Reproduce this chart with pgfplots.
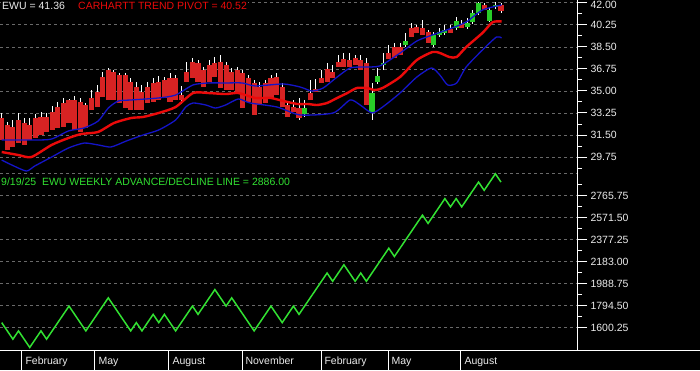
\documentclass[border=0pt]{standalone}
\usepackage{pgfplots}
\pgfplotsset{compat=1.18}
\usepackage{pgfplotstable}
\usepackage{fontspec}
\setmainfont{Liberation Sans}
\definecolor{candred}{RGB}{215,35,35}
\definecolor{candgreen}{RGB}{40,205,40}
\definecolor{pivotred}{RGB}{235,10,10}
\definecolor{bandblue}{RGB}{20,20,200}
\definecolor{adgreen}{RGB}{50,225,50}
\definecolor{gridgray}{RGB}{105,105,105}
\definecolor{txt}{RGB}{235,235,235}
\newcommand\lab{\fontsize{10.5}{12}\selectfont}

\pgfplotstableread{
x hi lo top bot
0 33.25 31.10 32.85 31.10
1 32.53 30.31 32.29 30.31
2 32.69 30.55 32.14 30.55
3 33.25 30.86 32.69 30.86
4 32.85 30.71 32.45 30.71
5 32.85 31.10 32.29 31.10
6 33.17 31.26 32.85 31.26
7 33.33 31.50 32.93 31.50
8 33.25 31.74 32.93 31.74
9 33.80 31.90 33.33 31.90
10 34.12 32.06 33.72 32.06
11 34.44 32.14 34.04 32.14
12 34.36 32.45 34.28 32.45
13 34.60 31.90 34.28 31.90
14 34.44 31.74 34.12 31.74
15 34.04 32.06 33.88 32.06
16 35.07 33.48 34.44 33.48
17 35.47 33.72 34.91 33.72
18 36.50 34.52 36.10 34.52
19 36.82 34.28 36.66 34.28
20 36.66 34.28 36.50 34.28
21 36.42 34.04 36.26 34.04
22 36.42 33.64 36.26 33.64
23 36.02 33.48 35.71 33.48
24 35.71 33.48 35.31 33.48
25 35.47 33.48 34.91 33.48
26 35.71 34.04 35.31 34.04
27 36.02 34.12 35.63 34.12
28 36.18 34.28 35.71 34.28
29 36.10 34.44 35.86 34.44
30 36.42 34.12 36.02 34.12
31 36.26 34.28 36.02 34.28
32 35.39 33.96 34.67 34.28
33 37.29 35.71 36.50 35.71
34 37.61 36.02 37.29 36.02
35 37.45 35.71 37.21 35.71
36 36.90 35.31 36.66 35.31
37 37.45 35.71 37.06 35.71
38 37.69 36.10 37.21 36.10
39 37.85 35.23 37.29 35.23
40 37.29 35.07 37.06 35.07
41 36.82 35.07 36.50 35.07
42 36.90 34.83 36.66 34.83
43 36.66 33.64 36.42 33.64
44 36.26 34.12 36.02 34.12
45 35.86 33.09 35.63 33.09
46 35.71 33.88 35.31 33.88
47 35.86 34.04 35.63 34.04
48 36.26 34.44 36.02 34.44
49 36.42 34.67 36.10 34.67
50 35.63 33.72 35.31 33.72
51 34.12 32.93 33.88 32.93
52 34.28 33.33 33.72 33.33
53 34.44 32.69 33.64 32.85
55 35.86 34.28 34.83 34.28
56 35.94 34.91 35.15 34.91
57 36.66 35.63 36.02 35.63
58 37.21 35.71 36.74 35.71
59 37.06 36.02 36.50 36.02
60 37.85 36.90 37.29 36.90
61 38.01 36.90 37.53 36.90
62 38.01 36.90 37.45 36.90
63 37.85 37.06 37.61 37.06
64 37.85 36.66 37.45 36.66
65 37.61 33.88 37.21 33.88
69 38.64 37.53 38.01 37.53
70 38.80 37.61 38.48 37.61
71 38.80 37.85 38.48 37.85
73 40.39 39.28 39.99 39.28
74 40.23 39.60 40.07 39.60
75 40.63 39.44 39.99 39.44
76 39.83 38.80 39.67 38.80
80 40.23 39.60 39.91 39.60
82 40.63 39.99 40.31 39.99
86 41.98 41.42 41.82 41.42
89 41.98 41.18 41.82 41.36
}\redc

\pgfplotstableread{
x hi lo top bot
54 34.28 32.93 33.64 33.17
66 35.63 32.69 34.83 33.33
67 36.82 35.55 36.18 35.71
68 38.01 36.66 37.21 37.06
72 39.60 38.48 38.96 38.64
77 39.67 38.48 39.44 38.64
78 39.99 39.28 39.67 39.44
79 40.23 39.44 39.83 39.60
81 40.87 39.83 40.55 39.99
83 40.79 39.91 40.39 40.07
84 41.42 40.31 41.18 40.47
85 42.05 41.02 41.98 41.18
87 41.58 40.47 41.42 40.55
88 42.05 41.50 41.82 41.66
}\greenc

\pgfplotstableread{
x ad
0 1645
1 1572
2 1499
3 1572
4 1499
5 1426
6 1499
7 1572
8 1499
9 1572
10 1645
11 1718
12 1791
13 1718
14 1645
15 1572
16 1645
17 1718
18 1791
19 1864
20 1791
21 1718
22 1645
23 1572
24 1645
25 1572
26 1645
27 1718
28 1645
29 1718
30 1645
31 1572
32 1645
33 1718
34 1791
35 1718
36 1791
37 1864
38 1937
39 1864
40 1791
41 1864
42 1791
43 1718
44 1645
45 1572
46 1645
47 1718
48 1791
49 1718
50 1645
51 1718
52 1791
53 1718
54 1791
55 1864
56 1937
57 2010
58 2083
59 2010
60 2083
61 2156
62 2083
63 2010
64 2083
65 2010
66 2083
67 2156
68 2229
69 2302
70 2229
71 2302
72 2375
73 2448
74 2521
75 2594
76 2521
77 2594
78 2667
79 2740
80 2667
81 2740
82 2667
83 2740
84 2813
85 2886
86 2813
87 2886
88 2959
89 2886
}\adline

\pgfplotsset{
  panel/.style={
    scale only axis, width=577pt, xmin=-0.3, xmax=102.55,
    axis x line=none, axis y line*=right,
    axis line style={white, line width=1pt},
    tick align=outside, major tick length=10pt, minor tick length=5pt,
    tick style={white, line width=0.9pt},
    ymajorgrids,
    major grid style={gridgray, dash pattern=on 3pt off 3pt, line width=0.5pt},
    yticklabel style={text=txt, font=\lab,
      /pgf/number format/fixed, /pgf/number format/fixed zerofill,
      /pgf/number format/precision=2, /pgf/number format/1000 sep={},
      /pgf/number format/assume math mode=true},
  },
  wick/.style={draw=none, mark=none, error bars/.cd, y dir=both, y explicit,
    error mark=none, error bar style={draw=white, line width=0.9pt}},
  body/.style={draw=none, mark=none, error bars/.cd, y dir=both, y explicit,
    error mark=none, error bar style={draw=#1, line width=5.1pt}},
}

\begin{document}
\begin{tikzpicture}
\clip (0,0) rectangle (700pt,370pt);
\fill[black] (0,0) rectangle (700pt,370pt);

% price panel
\begin{axis}[panel, at={(0pt,198pt)}, anchor=south west, height=172pt,
  ymin=28.563, ymax=42.214,
  ytick={29.75,31.5,33.25,35,36.75,38.5,40.25},
  extra y ticks={42}, extra y tick style={yticklabel style={yshift=-2.5pt}},
  minor ytick={28.875,30.625,32.375,34.125,35.875,37.625,39.375,41.125}]
\addplot[wick] table[x=x, y expr={(\thisrow{hi}+\thisrow{lo})/2}, y error expr={(\thisrow{hi}-\thisrow{lo})/2}] {\redc};
\addplot[wick] table[x=x, y expr={(\thisrow{hi}+\thisrow{lo})/2}, y error expr={(\thisrow{hi}-\thisrow{lo})/2}] {\greenc};
\addplot[body=candred] table[x=x, y expr={(\thisrow{top}+\thisrow{bot})/2}, y error expr={(\thisrow{top}-\thisrow{bot})/2}] {\redc};
\addplot[body=candgreen] table[x=x, y expr={(\thisrow{top}+\thisrow{bot})/2}, y error expr={(\thisrow{top}-\thisrow{bot})/2}] {\greenc};
% lower band
\addplot[bandblue, line width=1.3pt, smooth, tension=0.4] coordinates {
(0,29.51) (1.8,29.12) (4.4,28.64) (5.9,29.04) (8.9,29.75) (11.9,30.47) (14.7,30.86) (17.2,30.71) (19.5,30.55) (22.2,31.02) (25.2,31.50) (28.0,31.90) (31.0,32.69) (32.8,33.72) (34.1,34.04) (36.4,33.88) (38.1,33.64) (39.9,33.88) (42.2,34.36) (44.3,34.04) (49.1,33.72) (53.2,33.09) (59.1,33.25) (62.1,34.28) (63.9,33.88) (66.0,33.25) (67.9,33.72) (71.0,34.83) (74.0,36.10) (76.6,36.82) (78.1,36.26) (79.5,35.47) (81.1,35.63) (82.8,36.90) (85.7,38.25) (88.2,39.28) (89.1,39.20)};
% upper band
\addplot[bandblue, line width=1.3pt, smooth, tension=0.4] coordinates {
(0,31.10) (5.9,31.10) (8.9,31.18) (11.9,31.82) (14.7,32.06) (17.2,32.61) (19.0,33.64) (20.8,34.20) (23.1,34.28) (28.0,34.44) (31.0,34.67) (34.1,35.47) (36.9,35.63) (39.9,35.63) (42.9,35.63) (45.2,35.39) (50.2,35.55) (53.2,35.31) (55.3,34.99) (57.3,35.23) (59.8,36.10) (62.1,36.82) (64.4,36.90) (67.4,36.98) (71.0,38.00) (74.0,38.96) (76.8,39.44) (79.8,39.91) (82.8,40.47) (85.7,41.42) (89.1,41.82)};
% trend pivot
\addplot[pivotred, line width=2.4pt, smooth, tension=0.4] coordinates {
(0,30.15) (3.0,29.91) (5.3,29.75) (8.9,30.71) (11.9,31.26) (14.2,31.58) (17.2,31.74) (20.0,32.45) (23.1,32.85) (25.2,32.93) (28.0,33.25) (31.0,33.72) (34.1,34.83) (36.9,34.83) (39.9,34.75) (42.2,34.83) (45.2,34.44) (47.9,34.44) (50.2,34.20) (52.7,33.96) (54.6,33.96) (56.2,33.88) (58.0,34.04) (59.8,34.44) (61.6,34.83) (63.3,35.23) (65.1,35.23) (66.5,35.07) (67.9,35.23) (71.0,36.10) (74.0,37.45) (76.8,38.09) (78.1,38.01) (79.8,37.69) (81.1,37.69) (82.8,38.48) (85.7,39.60) (87.5,40.45) (89.1,40.52)};
\end{axis}

% advance/decline panel
\begin{axis}[panel, at={(0pt,20pt)}, anchor=south west, height=178pt,
  ymin=1403.3, ymax=2975,
  ytick={1600.25,1794.5,1988.75,2183,2377.25,2571.5,2765.75},
  minor ytick={1697.375,1891.625,2085.875,2280.125,2474.375,2668.625,2862.875},
  extra y ticks={2960}, extra y tick labels={},
  extra y tick style={major tick length=0pt}]
\addplot[adgreen, line width=1.5pt] table[x=x, y=ad] {\adline};
\end{axis}

% date strip
\begin{axis}[scale only axis, width=577pt, height=20pt, at={(0pt,0pt)}, anchor=south west,
  xmin=-0.3, xmax=102.55, ymin=0, ymax=1, ytick=\empty,
  axis line style={draw=none}, xtick style={draw=none}, tick align=inside,
  xtick={3.62,16.63,29.82,42.84,56.92,68.86,81.87},
  xticklabels={February,May,August,November,February,May,August},
  xmajorgrids, major grid style={white, line width=1pt},
  xticklabel style={anchor=base west, text=txt, font=\lab, yshift=6pt}]
\addplot[draw=none] coordinates {(0,0.5)};
\end{axis}

\draw[white, line width=1pt] (0,20pt) -- (700pt,20pt);
\node[anchor=base west, inner xsep=1pt, inner ysep=2.5pt, fill=black, font=\lab] at (1pt,360pt)
  {\makebox[76pt][l]{\color{txt}EWU = 41.36}{\color{pivotred}CARHARTT TREND PIVOT = 40.52}};
\node[anchor=base west, inner xsep=1pt, inner ysep=2.5pt, fill=black, text=adgreen, font=\lab] at (0pt,184.5pt) {9/19/25\ \ EWU WEEKLY ADVANCE/DECLINE LINE = 2886.00};
\end{tikzpicture}
\end{document}
